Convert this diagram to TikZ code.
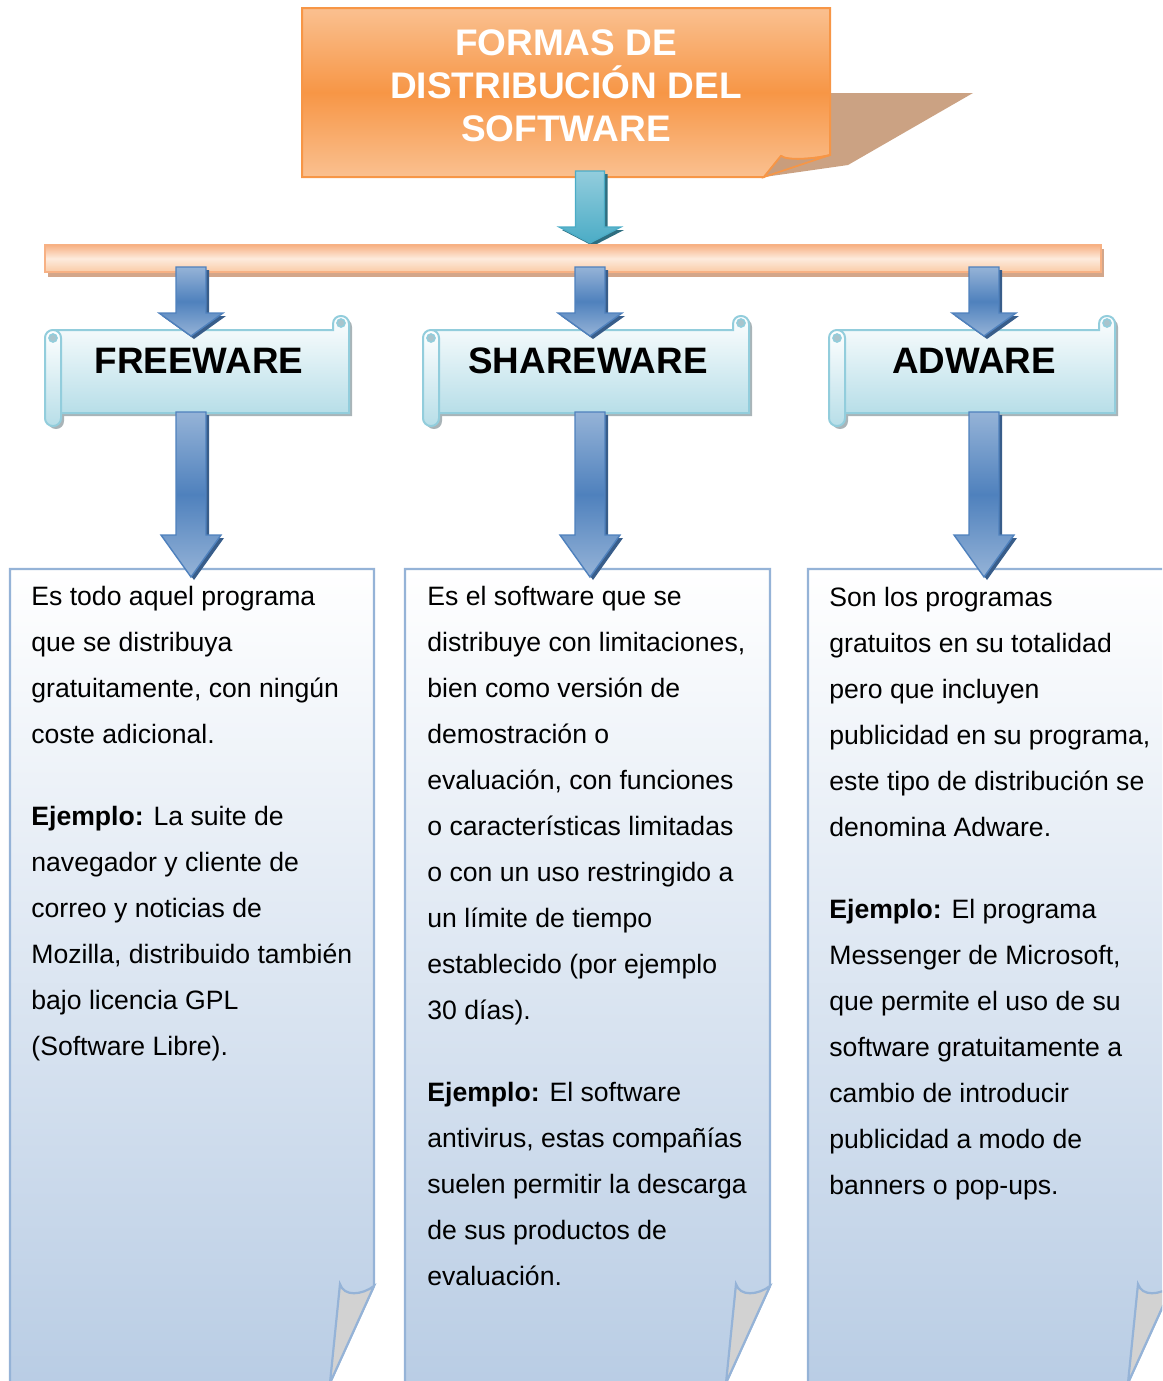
\documentclass[tikz,border=0pt]{standalone}
\usepackage{fontspec}
\setmainfont{Liberation Sans}
\definecolor{orgA}{HTML}{F79646}
\definecolor{orgL}{HTML}{FAC090}
\definecolor{shadowT}{HTML}{CBA283}
\definecolor{flapC}{HTML}{C99D7C}
\definecolor{barE}{HTML}{F7B184}
\definecolor{barM}{HTML}{FDEBDD}
\definecolor{barB}{HTML}{FACBA6}
\definecolor{barS}{HTML}{D3A68A}
\definecolor{cyanL}{HTML}{93CDDD}
\definecolor{cyanD}{HTML}{4BACC6}
\definecolor{cyanS}{HTML}{2E6E80}
\definecolor{blueL}{HTML}{95B3D7}
\definecolor{blueD}{HTML}{4F81BD}
\definecolor{blueS}{HTML}{385D8A}
\definecolor{pageB}{HTML}{B8CCE4}
\definecolor{foldC}{HTML}{D2D2D2}
\definecolor{scrollB}{HTML}{B7DEE8}
\definecolor{scrollE}{HTML}{92CDDC}
\definecolor{scrollS}{HTML}{A9B4B8}
\definecolor{curlC}{HTML}{A9C4CC}
\tikzset{
  pagebox/.style={draw=blueL, line width=1.1pt, top color=white, bottom color=pageB},
  bluearrow/.style={draw=blueD, line width=0.7pt, top color=blueL, bottom color=blueL, middle color=blueD},
  scrollfill/.style={draw=scrollE, line width=1pt, top color=white, bottom color=scrollB},
  bodytext/.style={anchor=base west, align=left, inner sep=0pt, font=\fontsize{13.3}{23}\selectfont},
  bannertext/.style={font=\fontsize{18.4}{22}\selectfont\bfseries, inner sep=0pt},
  titletext/.style={text=white, align=center, inner sep=0pt, font=\fontsize{18.5}{21.5}\selectfont\bfseries},
}
\newcommand{\myscroll}[5]{%
  \begin{scope}[shift={(3,3)}]
    \fill[scrollS] ({#1+8},330) -- ({#2-16},330) -- ({#2-16},324) .. controls ({#2-16},313.3) and (#2,313.3) .. (#2,324) -- (#2,413) -- ({#1+8},413) -- cycle;
    \fill[scrollS, rounded corners=3.9pt] (#1,330) rectangle ({#1+16},426);
  \end{scope}
  \path[scrollfill] ({#1+8},330) -- ({#2-16},330) -- ({#2-16},324) .. controls ({#2-16},313.3) and (#2,313.3) .. (#2,324) -- (#2,413) -- ({#1+8},413) -- cycle;
  \path[scrollfill, rounded corners=3.9pt] (#1,330) rectangle ({#1+16},426);
  \path[draw=scrollE, fill=curlC, line width=0.8pt] ({#1+8},338) circle (2pt);
  \path[draw=scrollE, fill=curlC, line width=0.8pt] ({#2-8},323) circle (2pt);
  \node[bannertext] (#3) at (#5,361) {#4};
}
\newcommand{\blarrow}[6]{%
  \fill[blueS] ({#2-15+3},{#3+3}) -- ({#2+15+3},{#3+3}) -- ({#2+15+3},{#4+3}) -- ({#2+#6+3},{#4+3}) -- ({#2+3},{#5+3}) -- ({#2-#6+3},{#4+3}) -- ({#2-15+3},{#4+3}) -- cycle;
  \path[bluearrow] ({#2-15},#3) -- ({#2+15},#3) -- ({#2+15},#4) -- ({#2+#6},#4) -- (#2,#5) -- ({#2-#6},#4) -- ({#2-15},#4) -- cycle;
  \coordinate (#1) at (#2,#5);
}
\newcommand{\mypage}[3]{%
  \path[pagebox] (#1,569) -- (#2,569) -- (#2,1286) -- ({#2-50},1396) -- (#1,1396) -- cycle;
  \path[draw=blueL, line width=1.1pt, fill=foldC] ({#2-34},1284) .. controls ({#2-30},1297) and ({#2-12},1295) .. (#2,1286) -- ({#2-44},1383) -- cycle;
  \coordinate (#3) at (#1,569);
}
\begin{document}
\begin{tikzpicture}[x=0.5pt,y=-0.5pt]
\useasboundingbox (0,0) rectangle (1162,1381);
\clip (0,0) rectangle (1162,1381);

% title shadow and box
\fill[shadowT] (800,93) -- (973,93) -- (848,165) -- (764,177) -- (790,150) -- cycle;
\path[draw=orgA, line width=1pt, top color=orgL, bottom color=orgL, middle color=orgA]
  (302,8) -- (830,8) -- (830,155) .. controls (815,159) and (787,161) .. (781,156) -- (764,177) -- (302,177) -- cycle;
\path[draw=orgA, line width=0.8pt, fill=flapC] (764,177) -- (781,156) .. controls (787,161) and (815,159) .. (830,155) -- cycle;
\node[titletext] (title) at (566,86) {FORMAS DE\\DISTRIBUCIÓN DEL\\SOFTWARE};

% cyan arrow
\fill[cyanS] (578.5,174) -- (607.5,174) -- (607.5,230) -- (624,230) -- (593,246) -- (562,230) -- (578.5,230) -- cycle;
\path[draw=cyanD, line width=0.6pt, top color=cyanL, bottom color=cyanD]
  (575.5,171) -- (604.5,171) -- (604.5,227) -- (621,227) -- (590,243) -- (559,227) -- (575.5,227) -- cycle;

% bar
\fill[barS] (48,249) rectangle (1104,277);
\path[draw=barE, line width=0.8pt, top color=barE, bottom color=barB, middle color=barM] (45,245) rectangle (1101,272);
\coordinate (bar) at (573,258);

% banners
\myscroll{45}{349}{free}{FREEWARE}{199}
\myscroll{423}{749}{share}{SHAREWARE}{588}
\myscroll{829}{1115}{ad}{ADWARE}{974}

% short arrows
\blarrow{a1}{191}{267}{313}{336}{32}
\blarrow{a2}{590}{267}{313}{336}{32}
\blarrow{a3}{984}{267}{313}{336}{32}

% pages
\mypage{10}{374}{p1}
\mypage{405}{770}{p2}
\mypage{808}{1172}{p3}

% long arrows
\blarrow{b1}{191}{412}{535}{577}{30}
\blarrow{b2}{590}{412}{535}{577}{30}
\blarrow{b3}{984}{412}{535}{577}{30}

% texts (anchored at the baseline of their last line)
\node[bodytext] (t1) at (31,1055) {Es todo aquel programa\\que se distribuya\\gratuitamente, con ningún\\coste adicional.\\[18pt]\textbf{Ejemplo:} La suite de\\navegador y cliente de\\correo y noticias de\\Mozilla, distribuido también\\bajo licencia GPL\\(Software Libre).};
\node[bodytext] (t2) at (427,1285) {Es el software que se\\distribuye con limitaciones,\\bien como versión de\\demostración o\\evaluación, con funciones\\o características limitadas\\o con un uso restringido a\\un límite de tiempo\\establecido (por ejemplo\\30 días).\\[18pt]\textbf{Ejemplo:} El software\\antivirus, estas compañías\\suelen permitir la descarga\\de sus productos de\\evaluación.};
\node[bodytext] (t3) at (829,1194) {Son los programas\\gratuitos en su totalidad\\pero que incluyen\\publicidad en su programa,\\este tipo de distribución se\\denomina Adware.\\[18pt]\textbf{Ejemplo:} El programa\\Messenger de Microsoft,\\que permite el uso de su\\software gratuitamente a\\cambio de introducir\\publicidad a modo de\\banners o pop-ups.};
\end{tikzpicture}
\end{document}
